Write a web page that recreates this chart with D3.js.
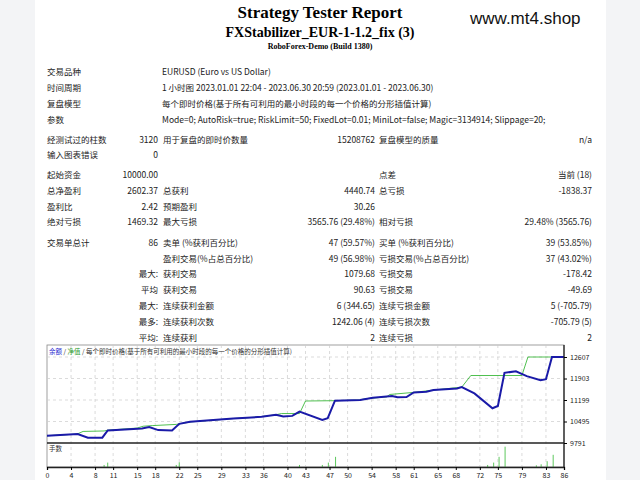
<!DOCTYPE html>
<html>
<head>
<meta charset="utf-8">
<script src="https://cdn.jsdelivr.net/npm/d3@7"></script>
<style>
  body { margin: 0; background: #f3f4f6; }
  svg { display: block; }
</style>
</head>
<body>
<svg id="page" width="640" height="480"></svg>
<script>
// Report rows: [y, label, value, label2, value2, label3, value3]
const headRows = [
  ['交易品种', 'EURUSD (Euro vs US Dollar)'],
  ['时间周期', '1 小时图 2023.01.01 22:04 - 2023.06.30 20:59 (2023.01.01 - 2023.06.30)'],
  ['复盘模型', '每个即时价格(基于所有可利用的最小时段的每一个价格的分形插值计算)'],
  ['参数', 'Mode=0; AutoRisk=true; RiskLimit=50; FixedLot=0.01; MiniLot=false; Magic=3134914; Slippage=20;']
];
const statRows = [
  [140, '经测试过的柱数', '3120', '用于复盘的即时价数量', '15208762', '复盘模型的质量', 'n/a'],
  [155, '输入图表错误', '0', '', '', '', ''],
  [175, '起始资金', '10000.00', '', '', '点差', '当前 (18)'],
  [191, '总净盈利', '2602.37', '总获利', '4440.74', '总亏损', '-1838.37'],
  [207, '盈利比', '2.42', '预期盈利', '30.26', '', ''],
  [222, '绝对亏损', '1469.32', '最大亏损', '3565.76 (29.48%)', '相对亏损', '29.48% (3565.76)'],
  [243, '交易单总计', '86', '卖单 (%获利百分比)', '47 (59.57%)', '买单 (%获利百分比)', '39 (53.85%)'],
  [259, '', '', '盈利交易(%占总百分比)', '49 (56.98%)', '亏损交易(%占总百分比)', '37 (43.02%)'],
  [274, '', '最大:', '获利交易', '1079.68', '亏损交易', '-178.42'],
  [290, '', '平均', '获利交易', '90.63', '亏损交易', '-49.69'],
  [306, '', '最大:', '连续获利金额', '6 (344.65)', '连续亏损金额', '5 (-705.79)'],
  [322, '', '最多:', '连续获利次数', '1242.06 (4)', '连续亏损次数', '-705.79 (5)'],
  [338, '', '平均:', '连续获利', '2', '连续亏损', '2']
];

// Chart data (trade number, account value)
const balance = [
  [0, 10029], [5.1, 10083], [6.8, 9964], [9.2, 9964], [10.1, 10203], [15.8, 10268],
  [17, 10311], [18.5, 10213], [20.8, 10203], [22, 10419], [23.8, 10484], [31, 10592],
  [35.7, 10647], [38.1, 10712], [39.3, 10657], [40.8, 10679], [42, 10820], [45.8, 10549],
  [46.7, 10603], [47.9, 11177], [52.1, 11199], [54.2, 11275], [57.4, 11329], [58.3, 11286],
  [59.8, 11296], [61, 11448], [63.1, 11470], [64.3, 11524], [68.2, 11578], [69, 11621],
  [71.1, 11416], [74.1, 10928], [75, 11004], [76.1, 12087], [78, 12141], [79.8, 11979],
  [82.1, 11849], [83, 11881], [84, 12607], [86, 12607]
];
const equity = [
  [0, 10029], [5, 10083], [6, 10170], [9.5, 10185], [10.1, 10210], [15, 10280], [16, 10340],
  [17.5, 10360], [21.5, 10400], [22, 10419], [24, 10484], [31, 10592], [35, 10640],
  [38, 10712], [39, 10755], [42, 10755], [43, 11166], [48, 11177], [52, 11199], [53, 11242],
  [56.5, 11300], [57, 11380], [61, 11448], [64.3, 11524], [69, 11621], [70.5, 12001],
  [79, 12001], [80, 12607], [86, 12607]
];
const lotTrades = [9.5, 10.1, 21.5, 22, 42, 45.8, 46.8, 48, 73.3, 74.3, 75.2, 76.2, 81.4, 82.2, 83.2, 84.2];
const lotSizes  = [0.06, 0.13, 0.06, 0.14, 0.06, 0.06, 0.13, 0.30, 0.06, 0.13, 0.30, 0.60, 0.05, 0.08, 0.17, 0.36];
const xTicks = [0, 4, 8, 11, 15, 18, 22, 25, 29, 33, 36, 40, 43, 47, 50, 54, 58, 61, 65, 68, 72, 75, 79, 83, 86];
const yTicks = [9791, 10495, 11199, 11903, 12607];

const svg = d3.select('#page');
const cjk = '"Noto Sans CJK SC", "Noto Sans", sans-serif';

svg.append('rect').attr('x', 35).attr('y', 0).attr('width', 571).attr('height', 480).attr('fill', '#fff');

// Titles
const serif = '"Liberation Serif", "DejaVu Serif", serif';
svg.append('text').attr('x', 320).attr('y', 18).attr('text-anchor', 'middle')
  .attr('font-family', serif).attr('font-weight', 'bold').attr('font-size', 17).text('Strategy Tester Report');
svg.append('text').attr('x', 320).attr('y', 37).attr('text-anchor', 'middle')
  .attr('font-family', serif).attr('font-weight', 'bold').attr('font-size', 14).text('FXStabilizer_EUR-1-1.2_fix (3)');
svg.append('text').attr('x', 320).attr('y', 49).attr('text-anchor', 'middle')
  .attr('font-family', serif).attr('font-weight', 'bold').attr('font-size', 8).text('RoboForex-Demo (Build 1380)');
svg.append('text').attr('x', 470).attr('y', 24)
  .attr('font-family', '"Liberation Sans", Arial, sans-serif').attr('font-size', 17).attr('fill', '#111').text('www.mt4.shop');

const txt = (x, y, s, anchor) => svg.append('text').attr('x', x).attr('y', y)
  .attr('text-anchor', anchor || 'start').attr('font-family', cjk).attr('font-size', 8.5)
  .attr('fill', '#222').text(s);

headRows.forEach(([label, value], i) => {
  const y = 75 + i * 16;
  txt(47, y, label);
  txt(162, y, value);
});

statRows.forEach(([y, l1, v1, l2, v2, l3, v3]) => {
  y += 3;
  txt(47, y, l1);
  txt(158, y, v1, 'end');
  txt(163, y, l2);
  txt(375, y, v2, 'end');
  txt(379, y, l3);
  txt(592, y, v3, 'end');
});

// Chart
const cLeft = 47, cRight = 564, cTop = 345, cMid = 443, cBottom = 467;
const x = d3.scaleLinear().domain([0, 86]).range([cLeft, cRight]);
const y = d3.scaleLinear().domain([9791, 12607]).range([cMid, 357]);
const yLot = d3.scaleLinear().domain([0, 0.62]).range([cBottom, cMid + 3]);

const g = svg.append('g');
g.append('rect').attr('x', cLeft).attr('y', cTop).attr('width', cRight - cLeft).attr('height', cBottom - cTop)
  .attr('fill', '#fff').attr('stroke', '#888').attr('stroke-width', 0.8);

g.selectAll('.vgrid').data(xTicks.slice(1, -1)).join('line')
  .attr('x1', d => x(d)).attr('x2', d => x(d)).attr('y1', cTop).attr('y2', cBottom)
  .attr('stroke', '#ccc').attr('stroke-dasharray', '3,3').attr('stroke-width', 0.7);
g.selectAll('.hgrid').data(yTicks.slice(1)).join('line')
  .attr('x1', cLeft).attr('x2', cRight).attr('y1', d => y(d)).attr('y2', d => y(d))
  .attr('stroke', '#ccc').attr('stroke-dasharray', '3,3').attr('stroke-width', 0.7);

g.selectAll('.lot').data(lotTrades).join('line')
  .attr('x1', d => x(d)).attr('x2', d => x(d))
  .attr('y1', cBottom).attr('y2', (d, i) => yLot(lotSizes[i]))
  .attr('stroke', '#5ec85e').attr('stroke-width', 1);

const line = d3.line().x(d => x(d[0])).y(d => y(d[1]));
g.append('path').datum(equity).attr('d', line).attr('fill', 'none')
  .attr('stroke', '#3cb93c').attr('stroke-width', 0.9);
g.append('path').datum(balance).attr('d', line).attr('fill', 'none')
  .attr('stroke', '#1a1aa8').attr('stroke-width', 2);

g.append('line').attr('x1', cLeft).attr('x2', cRight).attr('y1', cMid).attr('y2', cMid)
  .attr('stroke', '#222').attr('stroke-width', 1.5);

const yAxis = g.append('g').attr('transform', `translate(${cRight},0)`)
  .call(d3.axisRight(y).tickValues(yTicks).tickSize(3).tickFormat(d3.format('d')));
yAxis.selectAll('text').attr('font-size', 7).attr('font-family', cjk).attr('fill', '#222');
yAxis.select('.domain').attr('d', `M0,${cTop}V${cBottom}`).attr('stroke', '#222').attr('stroke-width', 1.3);

const xAxis = g.append('g').attr('transform', `translate(0,${cBottom})`)
  .call(d3.axisBottom(x).tickValues(xTicks).tickSize(3));
xAxis.selectAll('text').attr('font-size', 7).attr('font-family', cjk).attr('fill', '#222');
xAxis.select('.domain').attr('stroke', '#222').attr('stroke-width', 1.3);

const legend = g.append('text').attr('x', cLeft + 2).attr('y', 354)
  .attr('font-family', cjk).attr('font-size', 6.5).attr('fill', '#333');
legend.append('tspan').attr('fill', '#2a2ad0').text('余额');
legend.append('tspan').text(' / ');
legend.append('tspan').attr('fill', '#2a9a2a').text('净值');
legend.append('tspan').text(' / 每个即时价格(基于所有可利用的最小时段的每一个价格的分形插值计算)');
g.append('text').attr('x', cLeft + 2).attr('y', 451)
  .attr('font-family', cjk).attr('font-size', 6.5).attr('fill', '#333').text('手数');
</script>
</body>
</html>
